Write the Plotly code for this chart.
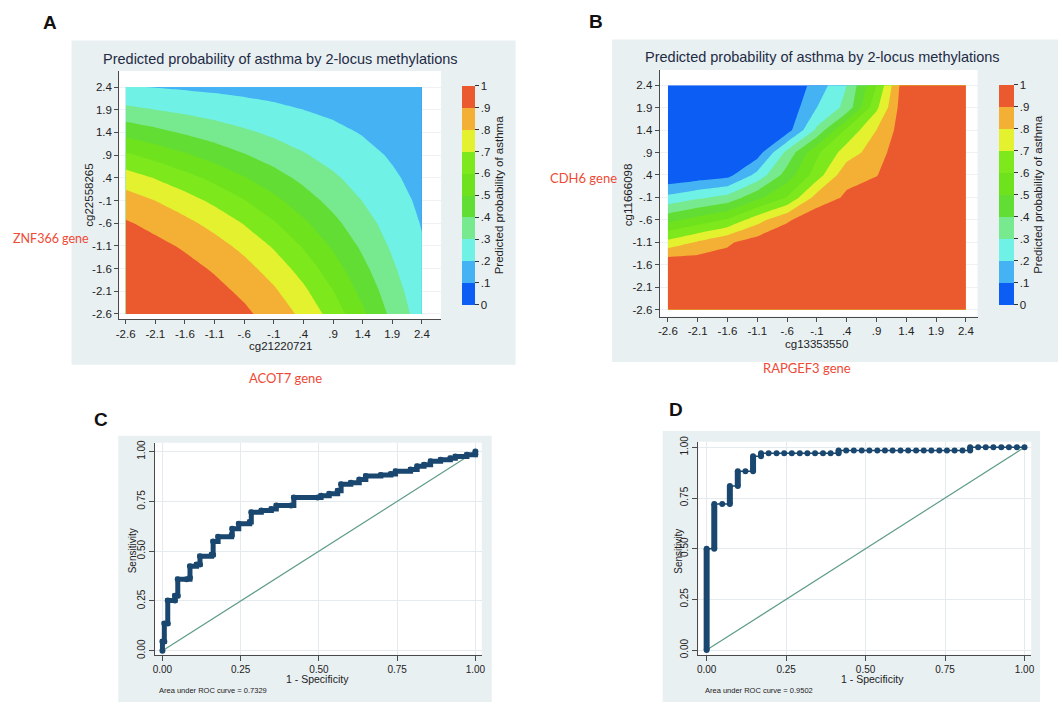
import plotly.graph_objects as go

W, H = 1062, 706

# ---------------- data ----------------
grid_vals = [-2.6, -2.1, -1.6, -1.1, -0.6, -0.1, 0.4, 0.9, 1.4, 1.9, 2.4]
grid_text = ["-2.6", "-2.1", "-1.6", "-1.1", "-.6", "-.1", ".4", ".9", "1.4", "1.9", "2.4"]

# Panel A: predicted probability, rows = cg22558265 (ascending), cols = cg21220721
prob_a = [
    [0.991, 0.985, 0.973, 0.952, 0.918, 0.861, 0.776, 0.658, 0.518, 0.374, 0.250],
    [0.984, 0.974, 0.956, 0.927, 0.882, 0.815, 0.721, 0.603, 0.471, 0.344, 0.235],
    [0.972, 0.955, 0.929, 0.890, 0.834, 0.757, 0.659, 0.544, 0.425, 0.314, 0.221],
    [0.949, 0.924, 0.888, 0.838, 0.772, 0.688, 0.590, 0.485, 0.381, 0.286, 0.208],
    [0.910, 0.874, 0.827, 0.767, 0.694, 0.610, 0.518, 0.426, 0.338, 0.260, 0.195],
    [0.846, 0.799, 0.743, 0.677, 0.604, 0.525, 0.445, 0.368, 0.298, 0.235, 0.183],
    [0.748, 0.695, 0.636, 0.572, 0.506, 0.439, 0.375, 0.315, 0.260, 0.212, 0.171],
    [0.618, 0.566, 0.513, 0.460, 0.407, 0.357, 0.309, 0.266, 0.226, 0.191, 0.160],
    [0.468, 0.428, 0.389, 0.351, 0.316, 0.282, 0.250, 0.221, 0.195, 0.171, 0.149],
    [0.323, 0.300, 0.278, 0.257, 0.237, 0.218, 0.200, 0.183, 0.168, 0.153, 0.140],
    [0.206, 0.197, 0.188, 0.180, 0.172, 0.165, 0.157, 0.150, 0.143, 0.136, 0.130],
]

# Panel B: rows = cg11666098 (ascending), cols = cg13353550
prob_b = [
    [0.998, 0.999, 1.0, 1.0, 1.0, 1.0, 1.0, 1.0, 1.0, 1.0, 1.0],
    [0.995, 0.993, 0.990, 0.995, 1.0, 1.0, 1.0, 1.0, 1.0, 1.0, 1.0],
    [0.990, 0.970, 0.950, 0.980, 0.995, 1.0, 1.0, 1.0, 1.0, 1.0, 1.0],
    [0.730, 0.810, 0.885, 0.950, 0.985, 0.990, 0.995, 1.0, 1.0, 1.0, 1.0],
    [0.470, 0.540, 0.610, 0.760, 0.885, 0.970, 0.980, 0.990, 1.0, 1.0, 1.0],
    [0.225, 0.280, 0.330, 0.470, 0.605, 0.840, 0.915, 0.970, 0.995, 1.0, 1.0],
    [0.010, 0.038, 0.066, 0.230, 0.445, 0.650, 0.870, 0.895, 0.990, 1.0, 1.0],
    [0.0, 0.0, 0.0, 0.050, 0.330, 0.580, 0.750, 0.850, 0.990, 1.0, 1.0],
    [0.0, 0.0, 0.0, 0.005, 0.054, 0.320, 0.620, 0.800, 0.970, 1.0, 1.0],
    [0.0, 0.0, 0.0, 0.0, 0.025, 0.200, 0.330, 0.680, 0.990, 1.0, 1.0],
    [0.0, 0.0, 0.0, 0.0, 0.015, 0.140, 0.300, 0.600, 0.990, 1.0, 1.0],
]

band_colors = ["#0b5df3", "#45b3f3", "#6ff1e6", "#77e98f", "#62dd34",
               "#6fe21e", "#7de81b", "#e3f12f", "#f4b035", "#eb5a2f"]
cbar_vals = [0, 0.1, 0.2, 0.3, 0.4, 0.5, 0.6, 0.7, 0.8, 0.9, 1.0]
cbar_text = ["0", ".1", ".2", ".3", ".4", ".5", ".6", ".7", ".8", ".9", "1"]

# Panel C ROC (1 - specificity, sensitivity)
roc_c_fpr = [0, 0, 0.006, 0.006, 0.017, 0.017, 0.040, 0.040, 0.049, 0.049,
             0.077, 0.088, 0.088, 0.109, 0.120, 0.120, 0.157, 0.162, 0.162, 0.178,
             0.221, 0.223, 0.244, 0.279, 0.284, 0.316, 0.348, 0.364, 0.411, 0.420,
             0.496, 0.507, 0.533, 0.560, 0.571, 0.602, 0.629, 0.650, 0.698, 0.730,
             0.745, 0.793, 0.814, 0.836, 0.857, 0.889, 0.920, 0.936, 0.973, 1.0, 1.0]
roc_c_tpr = [0, 0.046, 0.046, 0.137, 0.137, 0.252, 0.252, 0.276, 0.276, 0.359,
             0.359, 0.367, 0.424, 0.433, 0.433, 0.474, 0.482, 0.482, 0.548, 0.572,
             0.581, 0.613, 0.638, 0.646, 0.696, 0.704, 0.712, 0.729, 0.729, 0.770,
             0.770, 0.778, 0.789, 0.803, 0.836, 0.844, 0.860, 0.877, 0.882, 0.888,
             0.901, 0.910, 0.926, 0.934, 0.951, 0.959, 0.967, 0.975, 0.984, 0.987, 1.0]

# Panel D ROC
roc_d_fpr = [0, 0, 0.024, 0.024, 0.049, 0.073, 0.073, 0.098, 0.098, 0.122,
             0.146, 0.146, 0.171, 0.171, 0.195, 0.220, 0.244, 0.268, 0.293, 0.317,
             0.341, 0.366, 0.390, 0.415, 0.415, 0.439, 0.463, 0.488, 0.512, 0.537,
             0.561, 0.585, 0.610, 0.634, 0.659, 0.683, 0.707, 0.732, 0.756, 0.780,
             0.805, 0.829, 0.829, 0.854, 0.878, 0.902, 0.927, 0.951, 0.976, 1.0]
roc_d_tpr = [0, 0.5, 0.5, 0.721, 0.721, 0.721, 0.809, 0.809, 0.882, 0.882,
             0.882, 0.956, 0.956, 0.971, 0.971, 0.971, 0.971, 0.971, 0.971, 0.971,
             0.971, 0.971, 0.971, 0.971, 0.985, 0.985, 0.985, 0.985, 0.985, 0.985,
             0.985, 0.985, 0.985, 0.985, 0.985, 0.985, 0.985, 0.985, 0.985, 0.985,
             0.985, 0.985, 1.0, 1.0, 1.0, 1.0, 1.0, 1.0, 1.0, 1.0]

roc_ticks = [0, 0.25, 0.5, 0.75, 1.0]
roc_text = ["0.00", "0.25", "0.50", "0.75", "1.00"]
auc_c = "0.7329"
auc_d = "0.9502"

# ---------------- styling helpers ----------------
FONT = "Liberation Sans, Arial, sans-serif"
NAVY = "#1a476f"
DIAG = "#5f9c88"
AXC = "#4a4a4a"
PANEL_BG = "#e9f0f2"
RED = "#ee4a36"


def fx(p):
    return p / W


def fy(p):
    return 1 - p / H


def stepped_scale(colors, nlevels):
    n = nlevels
    scale = []
    for k, c in enumerate(colors):
        lo = max(0.0, (k - 0.5) / n)
        hi = min(1.0, (k + 0.5) / n)
        scale.append([lo, c])
        scale.append([hi, c])
    return scale


cscale = stepped_scale(band_colors, 9)


def cbar(x_left, y_top, length, thick):
    return dict(
        x=fx(x_left), xanchor="left", y=fy(y_top), yanchor="top",
        len=length, lenmode="pixels", thickness=thick, thicknessmode="pixels",
        xpad=0, ypad=0, outlinewidth=0, borderwidth=0,
        ticks="outside", ticklen=4, tickcolor="#333", tickwidth=1,
        tickvals=cbar_vals, ticktext=cbar_text,
        tickfont=dict(size=11.5, color="#222", family=FONT),
        title=dict(text="Predicted probability of asthma", side="right",
                   font=dict(size=11.5, color="#222", family=FONT)),
    )


fig = go.Figure()

fig.add_trace(go.Contour(
    z=prob_a, x=grid_vals, y=grid_vals, xaxis="x", yaxis="y",
    contours=dict(start=0.1, end=0.9, size=0.1, coloring="fill", showlines=False),
    line=dict(width=0, smoothing=0), colorscale=cscale, zmin=0, zmax=1,
    colorbar=cbar(462, 81, 219, 13), hoverinfo="skip",
))
fig.add_trace(go.Contour(
    z=prob_b, x=grid_vals, y=grid_vals, xaxis="x2", yaxis="y2",
    contours=dict(start=0.1, end=0.9, size=0.1, coloring="fill", showlines=False),
    line=dict(width=0, smoothing=0), colorscale=cscale, zmin=0, zmax=1,
    colorbar=cbar(1003, 80, 220, 15), hoverinfo="skip",
))

# ROC C
fig.add_trace(go.Scatter(x=[0, 1], y=[0, 1], mode="lines", xaxis="x3", yaxis="y3",
                         line=dict(color=DIAG, width=1.2), showlegend=False))
fig.add_trace(go.Scatter(x=roc_c_fpr, y=roc_c_tpr, mode="lines+markers", xaxis="x3", yaxis="y3",
                         line=dict(color=NAVY, width=5, shape="hv"),
                         marker=dict(size=6, color=NAVY), showlegend=False))

# ROC D
fig.add_trace(go.Scatter(x=[0, 1], y=[0, 1], mode="lines", xaxis="x4", yaxis="y4",
                         line=dict(color=DIAG, width=1.2), showlegend=False))
run_x, run_y = [], []
for i in range(len(roc_d_fpr) - 1):
    if roc_d_fpr[i] == roc_d_fpr[i + 1]:
        run_x += [roc_d_fpr[i], roc_d_fpr[i + 1], None]
        run_y += [roc_d_tpr[i], roc_d_tpr[i + 1], None]
fig.add_trace(go.Scatter(x=run_x, y=run_y, mode="lines", xaxis="x4", yaxis="y4",
                         line=dict(color=NAVY, width=6), showlegend=False))
fig.add_trace(go.Scatter(x=roc_d_fpr, y=roc_d_tpr, mode="lines+markers", xaxis="x4", yaxis="y4",
                         line=dict(color=NAVY, width=1.5),
                         marker=dict(size=6, color=NAVY), showlegend=False))

# ---------------- axes ----------------
common = dict(showline=True, linecolor=AXC, linewidth=1, ticks="outside", ticklen=4,
              tickcolor=AXC, tickwidth=1, zeroline=False, fixedrange=True,
              tickfont=dict(size=11.5, color="#222", family=FONT))
roc_common = dict(common)
roc_common["tickfont"] = dict(size=10, color="#222", family=FONT)
roc_common["ticklen"] = 5

fig.update_layout(
    xaxis=dict(domain=[fx(117), fx(441)], range=[-2.709, 2.724], anchor="y",
               tickvals=grid_vals, ticktext=grid_text, showgrid=False, **common),
    yaxis=dict(domain=[fy(318), fy(66)], range=[-2.724, 2.754], anchor="x",
               tickvals=grid_vals, ticktext=grid_text, showgrid=True, gridcolor="#eef2f4", **common),
    xaxis2=dict(domain=[fx(661), fx(981)], range=[-2.738, 2.595], anchor="y2",
                tickvals=grid_vals, ticktext=grid_text, showgrid=False, **common),
    yaxis2=dict(domain=[fy(315), fy(65)], range=[-2.754, 2.736], anchor="x2",
                tickvals=grid_vals, ticktext=grid_text, showgrid=True, gridcolor="#eef2f4", **common),
    xaxis3=dict(domain=[fx(153), fx(482)], range=[-0.0238, 1.0206], anchor="y3",
                tickvals=roc_ticks, ticktext=roc_text, showgrid=True, gridcolor="#e4ebee", **roc_common),
    yaxis3=dict(domain=[fy(658), fy(443)], range=[-0.0198, 1.0446], anchor="x3",
                tickvals=roc_ticks, ticktext=roc_text, tickangle=-90,
                showgrid=True, gridcolor="#e4ebee", **roc_common),
    xaxis4=dict(domain=[fx(700), fx(1035)], range=[-0.026, 1.021], anchor="y4",
                tickvals=roc_ticks, ticktext=roc_text, showgrid=True, gridcolor="#e4ebee", **roc_common),
    yaxis4=dict(domain=[fy(658), fy(442)], range=[-0.0229, 1.0277], anchor="x4",
                tickvals=roc_ticks, ticktext=roc_text, tickangle=-90,
                showgrid=True, gridcolor="#e4ebee", **roc_common),
)

# ---------------- panel backgrounds ----------------
shapes = []
for (x0, y0, x1, y1) in [(69, 35, 516, 364), (613, 34, 1062, 361),
                         (116, 436, 492, 706), (664, 431, 1044, 706)]:
    shapes.append(dict(type="rect", xref="paper", yref="paper",
                       x0=fx(x0), x1=fx(x1), y0=fy(y1), y1=fy(y0),
                       fillcolor=PANEL_BG, line=dict(width=0), layer="below"))
# white plot regions
for (x0, y0, x1, y1) in [(117, 66, 441, 318), (661, 65, 981, 315),
                         (153, 443, 482, 658), (700, 442, 1035, 658)]:
    shapes.append(dict(type="rect", xref="paper", yref="paper",
                       x0=fx(x0), x1=fx(x1), y0=fy(y1), y1=fy(y0),
                       fillcolor="white", line=dict(width=0), layer="below"))

# ---------------- text ----------------
ann = []


def text(t, x, y, size, color="#222", xanchor="center", angle=0, bold=False, family=FONT):
    ann.append(dict(text=("<b>%s</b>" % t) if bold else t, x=fx(x), y=fy(y),
                    xref="paper", yref="paper", showarrow=False,
                    xanchor=xanchor, yanchor="middle", textangle=angle,
                    font=dict(size=size, color=color, family=family)))


title = "Predicted probability of asthma by 2-locus methylations"
text(title, 279, 54, 14.5, color="#1e2b45")
text(title, 825, 52, 14.5, color="#1e2b45")
text("cg22558265", 87, 192, 11.5, angle=-90)
text("cg21220721", 279, 345, 11.5)
text("cg11666098", 629, 192, 11.5, angle=-90)
text("cg13353550", 819, 343, 11.5)

GFONT = "Lato, Open Sans, sans-serif"
text("ZNF366 gene", 8, 236, 12.5, color=RED, xanchor="left", family=GFONT)
text("ACOT7 gene", 284, 377, 13, color=RED, family=GFONT)
text("CDH6 gene", 549, 174, 13, color=RED, xanchor="left", family=GFONT)
text("RAPGEF3 gene", 809, 367, 13, color=RED, family=GFONT)

text("A", 47, 17, 19, color="#111", bold=True)
text("B", 597, 16, 19, color="#111", bold=True)
text("C", 99, 419, 19, color="#111", bold=True)
text("D", 677, 409, 19, color="#111", bold=True)

text("Sensitivity", 130, 553, 10, angle=-90)
text("1 - Specificity", 317, 683, 10.5)
text("Area under ROC curve = " + auc_c, 155, 694, 7.5, xanchor="left")
text("Sensitivity", 680, 553, 10, angle=-90)
text("1 - Specificity", 875, 683, 10.5)
text("Area under ROC curve = " + auc_d, 705, 694, 7.5, xanchor="left")

fig.update_layout(
    width=W, height=H, margin=dict(l=0, r=0, t=0, b=0),
    paper_bgcolor="white", plot_bgcolor="white",
    showlegend=False, shapes=shapes, annotations=ann,
    font=dict(family=FONT, color="#222"),
)

fig.write_html("out.html", config={"displayModeBar": False},
               post_script="document.body.style.margin='0';document.body.style.overflow='hidden';")
